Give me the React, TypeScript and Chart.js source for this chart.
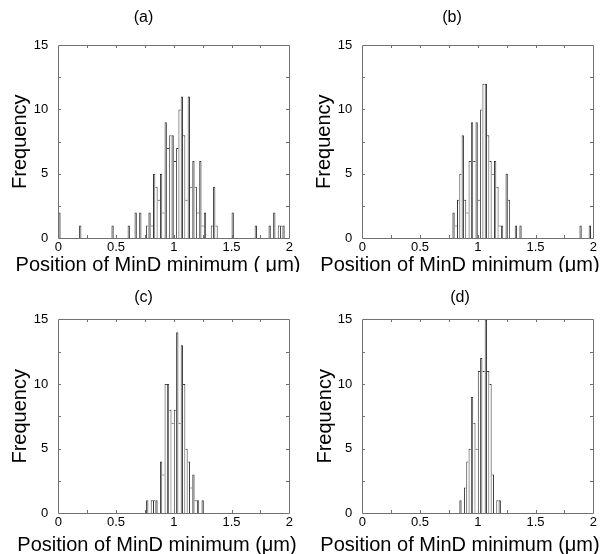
import React, { useEffect, useRef } from "react";
import { Chart, registerables } from "chart.js";

Chart.register(...registerables);

// ---------- data ----------
// 100 histogram bins of width 0.02 µm covering 0 .. 2 µm
const binWidth = 0.02;
const binCount = 100;
const binCenters: number[] = Array.from({ length: binCount }, (_, k) => +(k * binWidth + binWidth / 2).toFixed(3));

const countsA = [
  2, 0, 0, 0, 0, 0, 0, 0, 0, 1,
  0, 0, 0, 0, 0, 0, 0, 0, 0, 0,
  0, 0, 0, 1, 0, 0, 0, 0, 0, 0,
  1, 0, 0, 2, 0, 2, 0, 0, 1, 2,
  1, 5, 4, 3, 5, 2, 9, 7, 8, 8,
  6, 7, 10, 11, 8, 3, 11, 4, 6, 4,
  2, 6, 1, 2, 0, 0, 1, 4, 1, 0,
  0, 0, 0, 0, 0, 2, 0, 0, 0, 0,
  0, 0, 0, 0, 0, 1, 0, 0, 0, 0,
  0, 1, 0, 2, 0, 1, 1, 1, 0, 0,
];

const countsB = [
  0, 0, 0, 0, 0, 0, 0, 0, 0, 0,
  0, 0, 0, 0, 0, 0, 0, 0, 0, 0,
  0, 0, 0, 0, 0, 0, 0, 0, 0, 0,
  0, 0, 0, 0, 0, 0, 0, 0, 0, 2,
  1, 3, 5, 8, 3, 2, 6, 9, 6, 9,
  3, 10, 12, 12, 8, 6, 5, 6, 4, 1,
  1, 0, 5, 3, 0, 0, 1, 0, 1, 0,
  0, 0, 0, 0, 0, 0, 0, 0, 0, 0,
  0, 0, 0, 0, 0, 0, 0, 0, 0, 0,
  0, 0, 0, 0, 1, 0, 0, 0, 1, 0,
];

const countsC = [
  0, 0, 0, 0, 0, 0, 0, 0, 0, 0,
  0, 0, 0, 0, 0, 0, 0, 0, 0, 0,
  0, 0, 0, 0, 0, 0, 0, 0, 0, 0,
  0, 0, 0, 0, 0, 0, 0, 0, 1, 0,
  1, 1, 1, 0, 4, 3, 10, 10, 8, 7,
  8, 14, 7, 13, 10, 5, 4, 2, 3, 1,
  1, 0, 1, 0, 0, 0, 0, 0, 0, 0,
  0, 0, 0, 0, 0, 0, 0, 0, 0, 0,
  0, 0, 0, 0, 0, 0, 0, 0, 0, 0,
  0, 0, 0, 0, 0, 0, 0, 0, 0, 0,
];

const countsD = [
  0, 0, 0, 0, 0, 0, 0, 0, 0, 0,
  0, 0, 0, 0, 0, 0, 0, 0, 0, 0,
  0, 0, 0, 0, 0, 0, 0, 0, 0, 0,
  0, 0, 0, 0, 0, 0, 0, 0, 0, 0,
  0, 0, 1, 0, 2, 4, 5, 9, 7, 5,
  11, 12, 11, 15, 11, 10, 3, 0, 1, 1,
  0, 0, 0, 0, 0, 0, 0, 0, 0, 0,
  0, 0, 0, 0, 0, 0, 0, 0, 0, 0,
  0, 0, 0, 0, 0, 0, 0, 0, 0, 0,
  0, 0, 0, 0, 0, 0, 0, 0, 0, 0,
];

const panelTitles = ["(a)", "(b)", "(c)", "(d)"];
const xAxisTitles = [
  "Position of MinD minimum ( μm)",
  "Position of MinD minimum (μm)",
  "Position of MinD minimum (μm)",
  "Position of MinD minimum (μm)",
];
const yAxisTitle = "Frequency";
const xRange = [0, 2];
const xTickStep = 0.25;
const xLabelStep = 0.5;
const yRange = [0, 15];
const yTickStep = 2.5;
const yLabelStep = 5;

// ---------- layout / style ----------
const FONT = "'Liberation Sans', Arial, Helvetica, sans-serif";

type Panel = {
  counts: number[];
  title: string;
  xTitle: string;
  left: number;
  top: number;
  w: number;
  h: number;
  L: number;
  R: number;
  T: number;
  B: number;
  titleCX: number;
  titleCY: number;
  yTitleCX: number;
  xTitleCX: number;
  xTitleCY: number;
};

const panels: Panel[] = [
  { counts: countsA, title: panelTitles[0], xTitle: xAxisTitles[0], left: 0, top: 0, w: 300, h: 272, L: 58.3, R: 289.3, T: 45, B: 238.3, titleCX: 143.5, titleCY: 18, yTitleCX: 20, xTitleCX: 158, xTitleCY: 265 },
  { counts: countsB, title: panelTitles[1], xTitle: xAxisTitles[1], left: 304, top: 0, w: 299, h: 272, L: 58.3, R: 289.3, T: 45, B: 238.3, titleCX: 148, titleCY: 18, yTitleCX: 20, xTitleCX: 156, xTitleCY: 265 },
  { counts: countsC, title: panelTitles[2], xTitle: xAxisTitles[2], left: 0, top: 275, w: 300, h: 279, L: 58.3, R: 289.3, T: 44.3, B: 238.3, titleCX: 143.5, titleCY: 23, yTitleCX: 20, xTitleCX: 157, xTitleCY: 270 },
  { counts: countsD, title: panelTitles[3], xTitle: xAxisTitles[3], left: 304, top: 275, w: 299, h: 279, L: 58.3, R: 289.3, T: 44.3, B: 238.3, titleCX: 156, titleCY: 23, yTitleCX: 21, xTitleCX: 156, xTitleCY: 270 },
];

const boxPlugin = {
  id: "matlabBox",
  afterDatasetsDraw(chart: any) {
    const { ctx, chartArea } = chart;
    const { left, right, top, bottom } = chartArea;
    const xs = chart.scales.x;
    const ys = chart.scales.y;
    const tl = 3;
    ctx.save();
    ctx.strokeStyle = "#707070";
    ctx.lineWidth = 1;
    ctx.beginPath();
    ctx.rect(Math.round(left) + 0.5, Math.round(top) + 0.5, Math.round(right) - Math.round(left), Math.round(bottom) - Math.round(top));
    xs.ticks.forEach((t: any) => {
      if (t.value <= xRange[0] || t.value >= xRange[1]) return;
      const px = Math.round(xs.getPixelForValue(t.value)) + 0.5;
      ctx.moveTo(px, Math.round(bottom));
      ctx.lineTo(px, Math.round(bottom) - tl);
      ctx.moveTo(px, Math.round(top));
      ctx.lineTo(px, Math.round(top) + tl);
    });
    ys.ticks.forEach((t: any) => {
      if (t.value <= yRange[0] || t.value >= yRange[1]) return;
      const py = Math.round(ys.getPixelForValue(t.value)) + 0.5;
      ctx.moveTo(Math.round(left), py);
      ctx.lineTo(Math.round(left) + tl, py);
      ctx.moveTo(Math.round(right), py);
      ctx.lineTo(Math.round(right) - tl, py);
    });
    ctx.stroke();
    ctx.restore();
  },
};

// x-axis caption (wider than the plot area, so drawn without Chart.js's width squeeze)
const xCaptionPlugin = {
  id: "xCaption",
  afterDraw(chart: any, _args: any, opts: any) {
    if (!opts || !opts.text) return;
    const { ctx } = chart;
    ctx.save();
    ctx.fillStyle = "#000";
    ctx.font = `${opts.size}px ${FONT}`;
    ctx.textAlign = "center";
    ctx.textBaseline = "middle";
    ctx.fillText(opts.text, opts.x, opts.y);
    ctx.restore();
  },
};

function PanelChart({ p }: { p: Panel }) {
  const ref = useRef<HTMLCanvasElement | null>(null);
  useEffect(() => {
    if (!ref.current) return;
    const counts = p.counts;
    const padL = 2 * p.titleCX - p.R;
    const padR = p.w - p.R;
    const yWidth = p.L - padL;
    const xHeight = p.h - p.B;
    const chart = new Chart(ref.current, {
      type: "bar",
      data: {
        datasets: [
          {
            data: binCenters.map((c, i) => ({ x: c, y: counts[i] > 0 ? counts[i] : null })) as any,
            backgroundColor: "#ffffff",
            borderColor: "#333333",
            borderWidth: (ctx: any) => {
              const i = ctx.dataIndex;
              const v = counts[i] || 0;
              const prev = i > 0 ? counts[i - 1] || 0 : 0;
              const next = i < counts.length - 1 ? counts[i + 1] || 0 : 0;
              return { top: 1, bottom: 0, left: v >= prev ? 1 : 0, right: v > next ? 1 : 0 };
            },
            borderSkipped: "start",
            inflateAmount: 0,
            barPercentage: 1,
            categoryPercentage: 1,
          } as any,
        ],
      },
      options: {
        responsive: false,
        animation: false,
        devicePixelRatio: 1,
        layout: { padding: { left: padL, right: padR, top: 0, bottom: 0 } },
        plugins: {
          legend: { display: false },
          tooltip: { enabled: false },
          title: {
            display: true,
            text: p.title,
            color: "#000",
            font: { family: FONT, size: 16, weight: "normal", lineHeight: 1.2 },
            padding: { top: p.titleCY - 9.6, bottom: p.T - p.titleCY - 9.6 },
          },
          xCaption: { text: p.xTitle, x: p.xTitleCX, y: p.xTitleCY, size: 20 },
        },
        scales: {
          x: {
            type: "linear",
            min: xRange[0],
            max: xRange[1],
            offset: false,
            grid: { display: false, drawTicks: false },
            border: { display: false },
            ticks: {
              stepSize: xTickStep,
              autoSkip: false,
              maxRotation: 0,
              padding: 1,
              color: "#000",
              font: { family: FONT, size: 13 },
              callback: (v: any) => (Math.abs(v / xLabelStep - Math.round(v / xLabelStep)) < 1e-6 ? String(v) : ""),
            },
            title: { display: false },
            afterFit: (scale: any) => {
              scale.height = xHeight;
            },
          },
          y: {
            type: "linear",
            min: yRange[0],
            max: yRange[1],
            grid: { display: false, drawTicks: false },
            border: { display: false },
            ticks: {
              stepSize: yTickStep,
              autoSkip: false,
              padding: 10,
              color: "#000",
              font: { family: FONT, size: 13 },
              callback: (v: any) => (Math.abs(v / yLabelStep - Math.round(v / yLabelStep)) < 1e-6 ? String(v) : ""),
            },
            title: {
              display: true,
              text: yAxisTitle,
              color: "#000",
              font: { family: FONT, size: 20, lineHeight: 1 },
              padding: { top: p.yTitleCX - padL - 10, bottom: 0 },
            },
            afterFit: (scale: any) => {
              scale.width = yWidth;
            },
          },
        },
      } as any,
      plugins: [boxPlugin, xCaptionPlugin],
    });
    return () => chart.destroy();
  }, [p]);
  return (
    <canvas
      ref={ref}
      width={p.w}
      height={p.h}
      style={{ position: "absolute", left: p.left, top: p.top, width: p.w, height: p.h }}
    />
  );
}

export default function App() {
  return (
    <div style={{ position: "fixed", left: 0, top: 0, width: 603, height: 554, background: "#ffffff", overflow: "hidden" }}>
      {panels.map((p, i) => (
        <PanelChart key={i} p={p} />
      ))}
    </div>
  );
}
